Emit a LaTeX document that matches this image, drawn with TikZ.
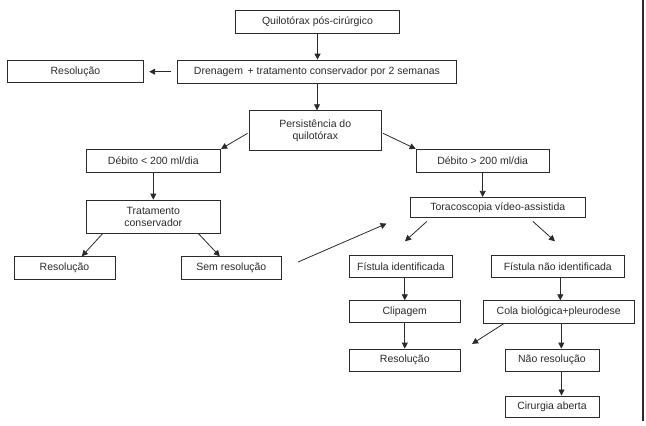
\documentclass[tikz,border=0pt]{standalone}
\usepackage{fontspec}
\setmainfont{Liberation Sans}
\usetikzlibrary{arrows.meta,calc}
\definecolor{ink}{HTML}{2A2A2A}
\tikzset{
  box/.style n args={2}{draw=ink, line width=0.8pt, minimum width=#1pt, minimum height=#2pt,
    inner sep=0pt, align=center, text=ink, font=\fontsize{10.5}{12.5}\selectfont},
  arr/.style={draw=ink, line width=0.8pt, -{Triangle[length=6pt,width=6pt]}},
  edge/.style={draw=ink, line width=1.4pt}
}
\begin{document}
\begin{tikzpicture}[x=1pt,y=-1pt]
\useasboundingbox (0,0) rectangle (646,426);
\node[box={164}{22.6}] (q1) at (317.5,22) {Quilotórax pós-cirúrgico};
\node[box={279.4}{23.3}] (dren) at (317,71.7) {Drenagem \,+ tratamento conservador por 2 semanas};
\node[box={136}{22}] (res1) at (75.4,71.7) {Resolução};
\node[box={132.7}{40}] (pers) at (315.3,130.7) {Persistência do\\quilotórax};
\node[box={134.7}{23.4}] (deb1) at (153.3,161) {Débito < 200 ml/dia};
\node[box={133.3}{23.4}] (deb2) at (482.7,161) {Débito > 200 ml/dia};
\node[box={134.7}{33.3}] (trat) at (153.3,216.7) {Tratamento\\conservador};
\node[box={101}{22.6}] (res2) at (64.5,268) {Resolução};
\node[box={100.7}{22.6}] (sem) at (231.3,268) {Sem resolução};
\node[box={175.7}{20.4}] (tora) at (497.8,207.5) {Toracoscopia vídeo-assistida};
\node[box={103.4}{22.7}] (fi) at (401,266.3) {Fístula identificada};
\node[box={132.3}{22.7}] (fni) at (557.8,266.3) {Fístula não identificada};
\node[box={111.7}{22}] (clip) at (404.8,311.7) {Clipagem};
\node[box={150.7}{22.6}] (cola) at (558.7,312) {Cola biológica+pleurodese};
\node[box={111.7}{22}] (res3) at (404.8,360) {Resolução};
\node[box={94}{22}] (nao) at (552,360) {Não resolução};
\node[box={94}{21.7}] (cir) at (552,406.8) {Cirurgia aberta};

\coordinate (c1) at ($(cola.south)+(2.6,0)$);
\coordinate (c2) at ($(nao.south)+(9.5,0)$);

\draw[arr] (q1.south) -- (q1.south |- dren.north);
\draw[arr] ($(dren.west)+(-5.8,0)$) -- ($(res1.east)+(5.4,0)$);
\draw[arr] (dren.south) -- (dren.south |- pers.north);
\draw[arr] ($(pers.west)+(-1,2.6)$) -- (deb1.north east);
\draw[arr] ($(pers.east)+(1,2.6)$) -- (deb2.north west);
\draw[arr] (deb1.south) -- (trat.north);
\draw[arr] (deb2.south) -- (deb2.south |- tora.north);
\draw[arr] ($(trat.south west)!0.125!(trat.south east)$) -- ($(res2.north west)!0.67!(res2.north east)$);
\draw[arr] ($(trat.south west)!0.834!(trat.south east)$) -- ($(sem.north west)!0.387!(sem.north east)$);
\draw[arr] ($(sem.east)+(16,-6)$) -- ($(tora.south west)+(-23,5.5)$);
\draw[arr] ($(tora.south west)+(17.3,3.3)$) -- ($(fi.north)+(4,-13.3)$);
\draw[arr] ($(tora.south west)+(123.3,3.3)$) -- ($(fni.north)+(-2.8,-13.3)$);
\draw[arr] (clip.north |- fi.south) -- (clip.north);
\draw[arr] ($(fni.south)+(2.5,0)$) -- ($(cola.north)+(1.6,0)$);
\draw[arr] (clip.south) -- (res3.north);
\draw[arr] ($(cola.south west)+(20.7,0)$) -- ($(res3.north east)+(11,-4.7)$);
\draw[arr] (c1) -- (c1 |- nao.north);
\draw[arr] (c2) -- (c2 |- cir.north);

\coordinate (rt) at (643,0);
\coordinate (rb) at (643,421);
\draw[edge] (rt) -- (rb);
\end{tikzpicture}
\end{document}
